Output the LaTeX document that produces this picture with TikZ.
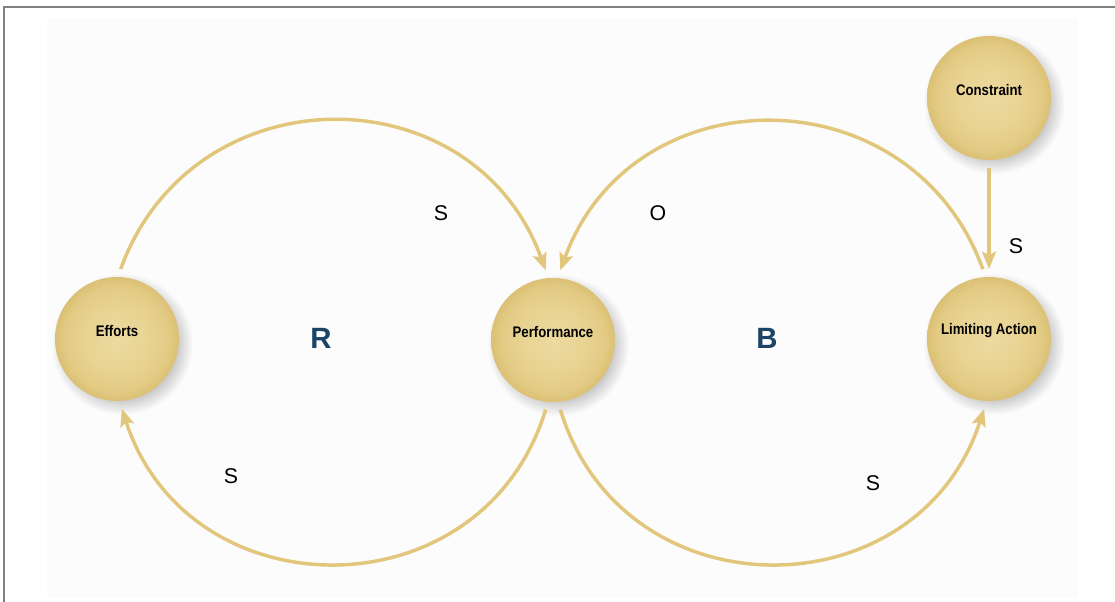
\documentclass[tikz,border=0pt]{standalone}
\usepackage{fontspec}
\setmainfont{Liberation Sans}
\usetikzlibrary{arrows.meta}
\definecolor{goldline}{HTML}{E2C67C}
\definecolor{loopblue}{HTML}{1C4466}
\definecolor{framegray}{HTML}{808080}
\definecolor{panel}{HTML}{FCFCFC}
\definecolor{shadowgray}{HTML}{B4B4B4}
\pgfdeclareradialshading{ballshade}{\pgfpoint{0bp}{0bp}}{%
  color(0bp)=(rgb,255:red,236;green,218;blue,160);
  color(13bp)=(rgb,255:red,232;green,211;blue,146);
  color(21bp)=(rgb,255:red,227;green,203;blue,132);
  color(25bp)=(rgb,255:red,219;green,192;blue,116);
  color(50bp)=(rgb,255:red,219;green,192;blue,116)}
\pgfdeclareradialshading{shadowshade}{\pgfpoint{0bp}{0bp}}{%
  color(0bp)=(shadowgray);
  color(17bp)=(shadowgray);
  color(25bp)=(panel);
  color(50bp)=(panel)}
\begin{document}
\begin{tikzpicture}[x=0.75pt,y=0.75pt,
  ball/.style={circle, minimum size=93pt, inner sep=0pt, outer sep=6pt,
    shading=ballshade,
    label={[ballname, yshift=6pt]center:\scalebox{0.86}[1]{#1}}},
  ballname/.style={font=\fontsize{11.5pt}{13pt}\selectfont\bfseries, text=black},
  shadowdisc/.style={shading=shadowshade},
  link/.style={draw=goldline, line width=2.6pt, -{Stealth[length=13pt, width=10.5pt, inset=2.5pt]}},
  pol/.style={font=\fontsize{16pt}{18pt}\selectfont, text=black},
  loopname/.style={font=\fontsize{22pt}{24pt}\selectfont\bfseries, text=loopblue}]
\useasboundingbox (0,0) rectangle (1115,602);
\fill[panel] (47,4) rectangle (1078,584);
\draw[framegray, line width=1.1pt] (4,0) -- (4,595) -- (1115,595);

% soft shadows behind the discs
\shade[shadowdisc] (122,258) circle (71);
\shade[shadowdisc] (558,257) circle (71);
\shade[shadowdisc] (994,258) circle (71);
\shade[shadowdisc] (994,499) circle (71);

\node[ball=Efforts] (eff) at (117,263) {};
\node[ball=Performance] (perf) at (553,262) {};
\node[ball=Limiting Action] (lim) at (989,263) {};
\node[ball=Constraint] (con) at (989,504) {};

\draw[link] (eff.87) to[out=70, in=110, looseness=1.27] (perf.96);
\draw[link] (perf.264) to[out=253, in=288, looseness=1.3] (eff.274);
\draw[link] (lim.95) to[out=110, in=70, looseness=1.27] (perf.84);
\draw[link] (perf.276) to[out=287, in=252, looseness=1.3] (lim.266);
\draw[link] (con.south) -- (lim.north);

\node[pol] (s1) at (441,389) {S};
\node[pol] (o1) at (658,389) {O};
\node[pol] (s2) at (1016,356) {S};
\node[pol] (s3) at (231,126) {S};
\node[pol] (s4) at (873,119) {S};
\node[loopname] (r) at (321,264) {R};
\node[loopname] (b) at (767,264) {B};
\end{tikzpicture}
\end{document}
